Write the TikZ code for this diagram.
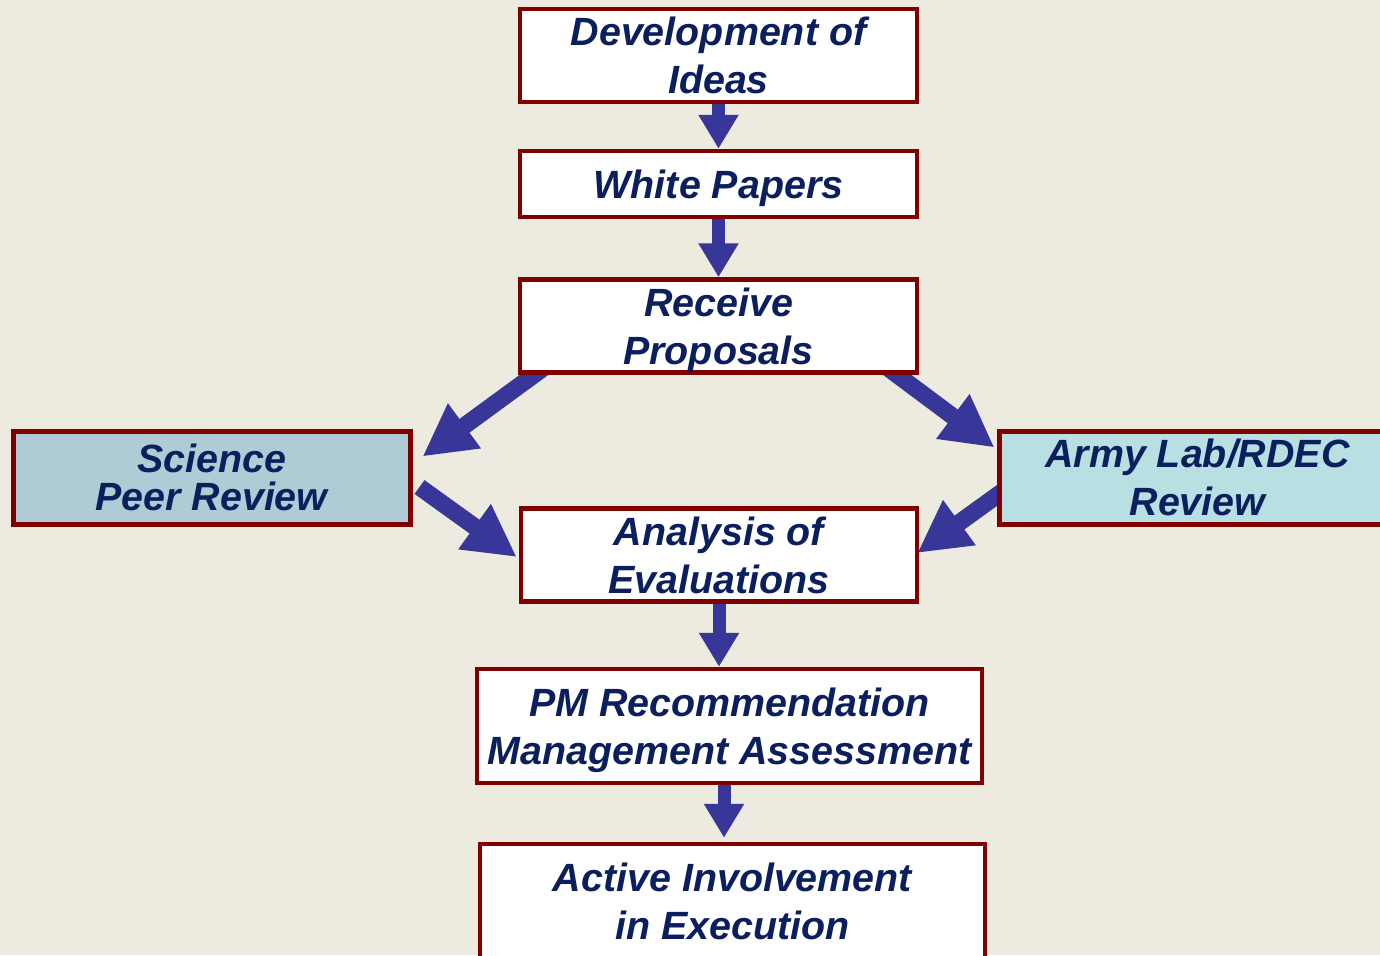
\documentclass[tikz,border=0pt]{standalone}
\usepackage{fontspec}
\setmainfont{Liberation Sans}
\usetikzlibrary{arrows.meta}
\definecolor{paper}{HTML}{EDEADF}
\definecolor{frame}{HTML}{800000}
\definecolor{flow}{HTML}{383698}
\definecolor{ink}{HTML}{0B1F5E}
\definecolor{peer}{HTML}{AFCBD6}
\definecolor{lab}{HTML}{B8DFE2}
\pgfdeclarelayer{bg}
\pgfdeclarelayer{arw}
\pgfsetlayers{bg,arw,main}

\begin{document}
\begin{tikzpicture}[x=0.5pt,y=-0.5pt,
			box/.style={draw=frame,line width=2.25pt,fill=white,rectangle,
				minimum width=198.5pt,minimum height=46.5pt,align=center,text=ink,text depth=0pt,
				font=\fontsize{19.7}{24}\selectfont\bfseries\itshape},
			flowarrow/.style={draw=flow,line width=6.5pt,-{Triangle[length=17pt,width=19pt]}},
			bigarrow/.style={draw=flow,line width=8.5pt,-{Triangle[length=26pt,width=26pt]}}]
			\useasboundingbox (0,0) rectangle (1380,955);
			\begin{pgfonlayer}{bg}
				\fill[paper] (0,0) rectangle (1380,955);
			\end{pgfonlayer}

			\node (ideas) [box] at (718.5,55.5) {Development of\\Ideas};
			\node (papers) [box,minimum height=33pt] at (718.5,184) {White Papers};
			\node (proposals) [box] at (718.5,326) {Receive\\Proposals};
			\node (science) [box,fill=peer,line width=2.5pt,
				font=\fontsize{19.7}{19}\selectfont\bfseries\itshape] at (211.5,477.5) {Science\\Peer Review};
			\node (army) [box,fill=lab,line width=2.5pt] at (1197.5,477.5) {Army Lab/RDEC\\Review};
			\node (analysis) [box,minimum width=198pt] at (719,555) {Analysis of\\Evaluations};
			\node (pm) [box,minimum width=252.5pt,minimum height=57pt] at (729.5,726) {PM Recommendation\\Management Assessment};
			\node (active) [box,minimum width=252.5pt,minimum height=57pt] at (732.5,901) {Active Involvement\\in Execution};

			\begin{pgfonlayer}{arw}
				\draw[flowarrow] (ideas.south) -- (papers.north);
				\draw[flowarrow] (papers.south) -- (proposals.north);
				\draw[bigarrow] ([shift={(26,-7)}]proposals.south west) -- ([shift={(10,28)}]science.north east);
				\draw[bigarrow] ([shift={(-33,-8)}]proposals.south east) -- ([shift={(-2,19)}]army.north west);
				\draw[bigarrow] ([shift={(7,9.5)}]science.east) -- ([shift={(-2,2)}]analysis.west);
				\draw[bigarrow] ([shift={(8,12.5)}]army.west) -- ([shift={(-2,-2)}]analysis.east);
				\draw[flowarrow] (analysis.south) -- (analysis.south |- pm.north);
				\coordinate (pmfoot) at ([shift={(-5.5,0)}]pm.south);
				\draw[flowarrow,shorten >=2pt] (pmfoot) -- (pmfoot |- active.north);
			\end{pgfonlayer}
		\end{tikzpicture}
\end{document}
